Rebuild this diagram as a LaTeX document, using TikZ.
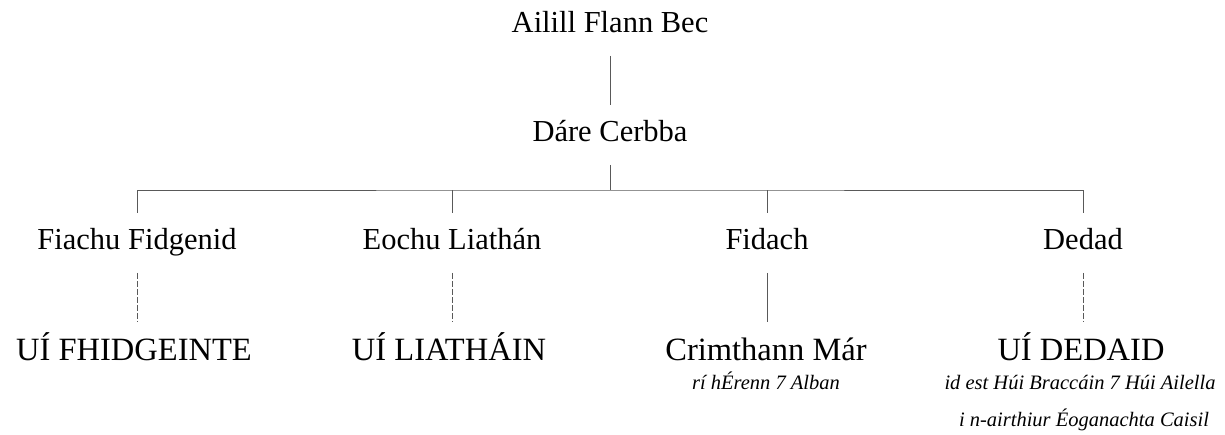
\documentclass[tikz,border=0pt]{standalone}
\usepackage{fontspec}
\setmainfont{Liberation Serif}
\usetikzlibrary{positioning}
\tikzset{
person/.style={font=\fontsize{30.5}{36}\selectfont, inner sep=0pt, text height=21pt, text depth=7pt, outer ysep=16pt, anchor=base}, % one name in the tree
sept/.style={person, font=\fontsize{32.5}{38}\selectfont, text height=22pt}, % the kindreds on the last row
gloss/.style={font=\itshape\fontsize{20.5}{24}\selectfont, inner sep=0pt, anchor=base}, % small italic notes
line/.style={draw=black!65, line width=0.9pt}, % plain descent
uncertain/.style={line, dash pattern=on 6pt off 2pt}, % descent not in one step
}

\begin{document}
\begin{tikzpicture}[x=1pt, y=-1pt]
\useasboundingbox (0,0) rectangle (1225,435);
\node[person] (ailill) at (610,33) {Ailill Flann Bec};
\node[person] (dare) at (610,142) {Dáre Cerbba};
\coordinate (bar) at (610,190);
\node[person] (fiachu) at (137,250) {Fiachu Fidgenid};
\node[person] (eochu) at (452,250) {Eochu Liathán};
\node[person] (fidach) at (767,250) {Fidach};
\node[person] (dedad) at (1083,250) {Dedad};
\node[sept] (uifhid) at (134,360) {UÍ FHIDGEINTE};
\node[sept] (uiliath) at (449,360) {UÍ LIATHÁIN};
\node[sept] (crimthann) at (766,360) {Crimthann Már};
\node[sept] (uidedaid) at (1081,360) {UÍ DEDAID};
\node[gloss] (crimnote) at (766,389) {rí hÉrenn 7 Alban};
\node[gloss] (dednote) at (1080,389) {id est Húi Braccáin 7 Húi Ailella};
\node[gloss] (dednote2) at (1084,426) {i n-airthiur Éoganachta Caisil};

\draw[line] (ailill) -- (dare);
\draw[line] (dare) -- (bar);
\draw[line] (fiachu) |- (bar) -| (dedad);
\draw[line] (eochu) -- (eochu |- bar);
\draw[line] (fidach) -- (fidach |- bar);
\draw[uncertain] (fiachu) -- (fiachu |- uifhid.north);
\draw[uncertain] (eochu) -- (eochu |- uiliath.north);
\draw[line] (fidach) -- (fidach |- crimthann.north);
\draw[uncertain] (dedad) -- (dedad |- uidedaid.north);
\end{tikzpicture}
\end{document}
